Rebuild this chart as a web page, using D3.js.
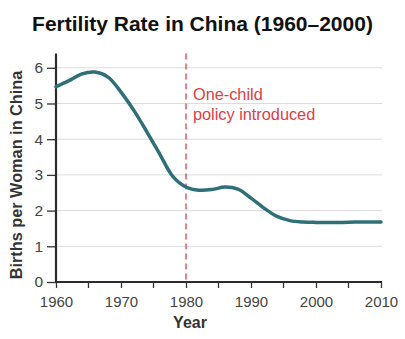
<!DOCTYPE html>
<html>
<head>
<meta charset="UTF-8">
<title>Fertility Rate in China (1960–2000)</title>
<script src="https://cdn.jsdelivr.net/npm/d3@7"></script>
<style>
  body { margin: 0; background: #fff; }
  svg { font-family: "Liberation Sans", Arial, sans-serif; }
</style>
</head>
<body>
<script>
// births per woman, read every two years
var years = [1960, 1962, 1964, 1966, 1968, 1970, 1972, 1974, 1976, 1978,
             1980, 1982, 1984, 1986, 1988, 1990, 1992, 1994, 1996, 1998,
             2000, 2002, 2004, 2006, 2008, 2010];
var births = [5.47, 5.64, 5.83, 5.88, 5.74, 5.32, 4.80, 4.20, 3.57, 2.95,
              2.66, 2.57, 2.59, 2.66, 2.60, 2.35, 2.07, 1.84, 1.72, 1.68,
              1.67, 1.67, 1.67, 1.68, 1.68, 1.68];
var xTicks = [1960, 1970, 1980, 1990, 2000, 2010];
var xMinor = [1965, 1975, 1985, 1995, 2005];
var yTicks = [0, 1, 2, 3, 4, 5, 6];
var policyYear = 1980;

var width = 405, height = 339;

var svg = d3.select("body").append("svg")
  .attr("width", width)
  .attr("height", height);

var x = d3.scaleLinear().domain([1960, 2010]).range([56, 381]);
var y = d3.scaleLinear().domain([0, 6.4]).range([282, 53.5]);

// title
svg.append("text")
  .attr("x", 202.5).attr("y", 31)
  .attr("text-anchor", "middle")
  .style("font-size", "21px").style("font-weight", "bold").style("fill", "#111")
  .text("Fertility Rate in China (1960–2000)");

// horizontal grid
svg.append("g").selectAll("line")
  .data(yTicks.filter(function (d) { return d > 0; }))
  .enter().append("line")
  .attr("x1", x(1960)).attr("x2", x(2010) + 1)
  .attr("y1", function (d) { return y(d); })
  .attr("y2", function (d) { return y(d); })
  .attr("stroke", "#dcdcdc").attr("stroke-width", 1);

// y axis
var yAxis = svg.append("g")
  .attr("transform", "translate(" + x(1960) + ",0)")
  .call(d3.axisLeft(y).tickValues(yTicks).tickSize(9).tickPadding(4).tickFormat(d3.format("d")));
yAxis.select(".domain").remove();
yAxis.selectAll(".tick line").attr("stroke", "#333").attr("stroke-width", 1.3);
yAxis.selectAll("text").style("font-size", "15.5px").style("fill", "#444")
  .style("font-family", "Liberation Sans, Arial, sans-serif");
svg.append("line")
  .attr("x1", x(1960)).attr("x2", x(1960))
  .attr("y1", y(6.4)).attr("y2", y(0) + 1)
  .attr("stroke", "#2b2b2b").attr("stroke-width", 2.2);

// x axis
var xAxis = svg.append("g")
  .attr("transform", "translate(0," + y(0) + ")")
  .call(d3.axisBottom(x).tickValues(xTicks).tickSize(6).tickPadding(8).tickFormat(d3.format("d")));
xAxis.select(".domain").remove();
xAxis.selectAll(".tick line").attr("stroke", "#333").attr("stroke-width", 1.3);
xAxis.selectAll("text").style("font-size", "15px").style("fill", "#444")
  .style("font-family", "Liberation Sans, Arial, sans-serif");
svg.append("g").selectAll("line")
  .data(xMinor).enter().append("line")
  .attr("x1", function (d) { return x(d); }).attr("x2", function (d) { return x(d); })
  .attr("y1", y(0)).attr("y2", y(0) + 6)
  .attr("stroke", "#333").attr("stroke-width", 1.3);
svg.append("line")
  .attr("x1", x(1960) - 1).attr("x2", x(2010) + 1)
  .attr("y1", y(0)).attr("y2", y(0))
  .attr("stroke", "#2b2b2b").attr("stroke-width", 2.2);

// axis titles
svg.append("text")
  .attr("transform", "translate(22," + 175 + ") rotate(-90)")
  .attr("text-anchor", "middle")
  .style("font-size", "16.3px").style("font-weight", "bold").style("fill", "#333")
  .text("Births per Woman in China");
svg.append("text")
  .attr("x", 190).attr("y", 328)
  .attr("text-anchor", "middle")
  .style("font-size", "16px").style("font-weight", "bold").style("fill", "#333")
  .text("Year");

// one-child policy marker
svg.append("line")
  .attr("x1", x(policyYear)).attr("x2", x(policyYear))
  .attr("y1", y(6.4)).attr("y2", y(0))
  .attr("stroke", "#d9434a").attr("stroke-width", 1.3)
  .attr("stroke-dasharray", "6,4");
var note = svg.append("text")
  .attr("x", x(policyYear) + 7).attr("y", 100)
  .style("font-size", "16.3px").style("fill", "#dc4046");
note.append("tspan").attr("x", x(policyYear) + 7).text("One-child");
note.append("tspan").attr("x", x(policyYear) + 7).attr("dy", 19.5).text("policy introduced");

// fertility curve
var line = d3.line()
  .x(function (d, i) { return x(years[i]); })
  .y(function (d) { return y(d); })
  .curve(d3.curveCatmullRom.alpha(0.5));
svg.append("path")
  .datum(births)
  .attr("d", line)
  .attr("fill", "none")
  .attr("stroke", "#2f7078")
  .attr("stroke-width", 3.5)
  .attr("stroke-linecap", "round");
</script>
</body>
</html>
